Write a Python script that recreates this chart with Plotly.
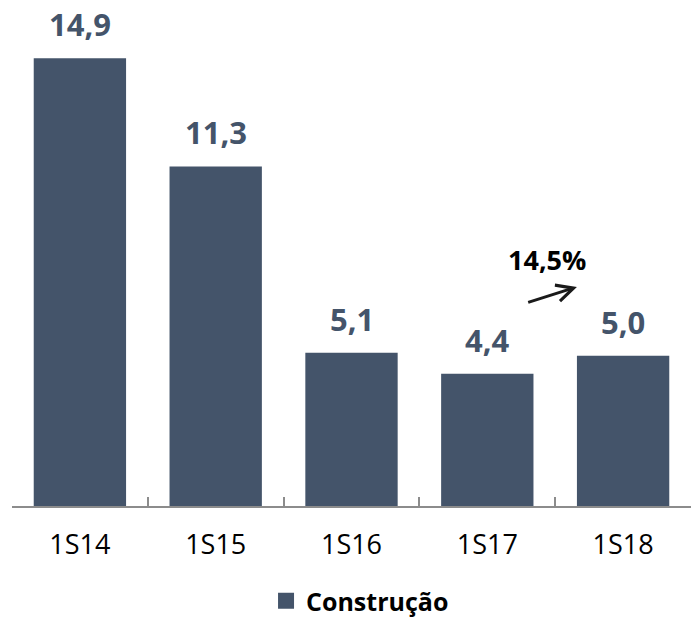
import plotly.graph_objects as go

# Half-year construction figures
periods = ["1S14", "1S15", "1S16", "1S17", "1S18"]
values = [14.9, 11.3, 5.1, 4.4, 5.0]
value_labels = ["14,9", "11,3", "5,1", "4,4", "5,0"]
series_name = "Construção"
growth_label = "14,5%"

BAR = "#44546A"
FONT = "Open Sans"

fig = go.Figure()
fig.add_trace(go.Bar(
    x=periods, y=values, marker_color=BAR, marker_line_width=0,
    showlegend=False, hoverinfo="skip",
))
# Legend entry with a larger square swatch
fig.add_trace(go.Scatter(
    x=[None], y=[None], mode="markers", name=f"<b>{series_name}</b>",
    marker=dict(symbol="square", size=18, color=BAR),
))

for p, v, t in zip(periods, values, value_labels):
    fig.add_annotation(
        x=p, y=v, text=f"<b>{t}</b>", showarrow=False,
        yanchor="bottom", yshift=11,
        font=dict(family=FONT, size=31, color=BAR),
    )

# Growth note between the last two periods
fig.add_annotation(
    x=3.44, y=8.19, xref="x", yref="y", text=f"<b>{growth_label}</b>",
    showarrow=False,
    font=dict(family=FONT, size=27, color="#000000"),
)
fig.add_annotation(
    x=3.66, y=7.29, ax=3.29, ay=6.76, xref="x", yref="y", axref="x", ayref="y",
    text="", showarrow=True, arrowhead=5, arrowsize=1.1, arrowwidth=3,
    arrowcolor="#1a1a1a",
)

fig.update_layout(
    width=691, height=624,
    margin=dict(l=12, r=0, t=0, b=118),
    paper_bgcolor="white", plot_bgcolor="white",
    bargap=0.32,
    showlegend=True,
    legend=dict(
        orientation="h", xref="container", x=0.385, xanchor="left",
        yref="container", y=-0.008, yanchor="bottom",
        font=dict(family=FONT, size=25, color="#000000"),
        itemwidth=30, borderwidth=0, bgcolor="rgba(0,0,0,0)",
    ),
    font=dict(family=FONT),
)
fig.update_xaxes(
    type="category", showline=True, linecolor="#8c8c8c", linewidth=1.5,
    ticks="inside", tickson="boundaries", ticklen=9, tickcolor="#8c8c8c",
    tickwidth=1.5, tickfont=dict(family=FONT, size=27, color="#000000"),
    ticklabelstandoff=14, showgrid=False, zeroline=False,
)
fig.update_yaxes(
    range=[0, 16.84], visible=False, showgrid=False, zeroline=False,
)

fig.write_html("out.html")
